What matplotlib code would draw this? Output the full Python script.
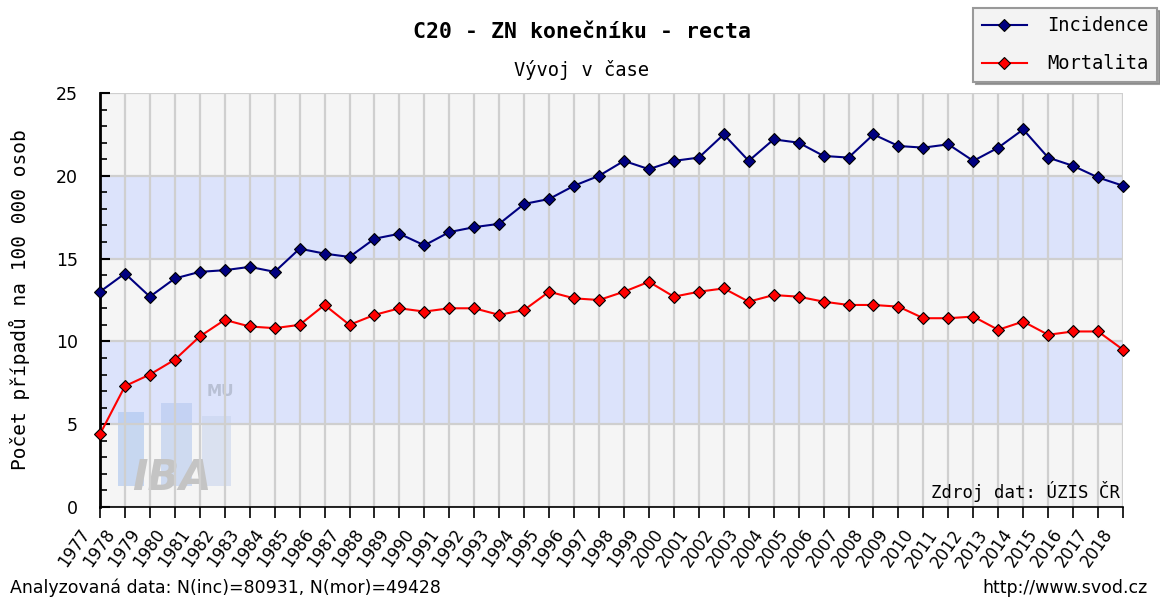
import numpy as np
import matplotlib
matplotlib.use("Agg")
import matplotlib.pyplot as plt
import matplotlib.transforms as mtransforms
from matplotlib.ticker import MultipleLocator
from matplotlib.patches import Rectangle

# --------------------------------------------------
# Data
# --------------------------------------------------
years = list(range(1977, 2019))
incidence = [13.0, 14.1, 12.7, 13.8, 14.2, 14.3, 14.5, 14.2, 15.6, 15.3,
             15.1, 16.2, 16.5, 15.8, 16.6, 16.9, 17.1, 18.3, 18.6, 19.4,
             20.0, 20.9, 20.4, 20.9, 21.1, 22.5, 20.9, 22.2, 22.0, 21.2,
             21.1, 22.5, 21.8, 21.7, 21.9, 20.9, 21.7, 22.8, 21.1, 20.6,
             19.9, 19.4]
mortality = [4.4, 7.3, 8.0, 8.9, 10.3, 11.3, 10.9, 10.8, 11.0, 12.2,
             11.0, 11.6, 12.0, 11.8, 12.0, 12.0, 11.6, 11.9, 13.0, 12.6,
             12.5, 13.0, 13.6, 12.7, 13.0, 13.2, 12.4, 12.8, 12.7, 12.4,
             12.2, 12.2, 12.1, 11.4, 11.4, 11.5, 10.7, 11.2, 10.4, 10.6,
             10.6, 9.5]
bands = [(5, 10), (15, 20)]

mono = "DejaVu Sans Mono"

# --------------------------------------------------
# Figure
# --------------------------------------------------
fig = plt.figure(figsize=(11.6, 5.99), dpi=100)
ax = fig.add_axes([100 / 1160, 1 - 507 / 599, 1023 / 1160, 414 / 599])
ax.set_facecolor("#f5f5f5")

for lo, hi in bands:
    ax.axhspan(lo, hi, color="#dce3fb", zorder=0, lw=0)

ax.set_xlim(years[0], years[-1])
ax.set_ylim(0, 25)

ax.set_xticks(years)
ax.set_xticklabels([])
# rotated year labels, ending a bit left of / below their tick
shift = mtransforms.ScaledTranslation(-14 / 100, -24 / 100, fig.dpi_scale_trans)
for y in years:
    ax.text(y, 0, str(y), transform=ax.get_xaxis_transform() + shift,
            rotation=55, ha="right", va="center", rotation_mode="anchor",
            fontsize=12)

ax.yaxis.set_major_locator(MultipleLocator(5))
ax.yaxis.set_minor_locator(MultipleLocator(1))
ax.tick_params(axis="y", which="major", direction="in", length=7, width=1.5,
               labelsize=12.5, pad=16)
ax.tick_params(axis="y", which="minor", direction="in", length=5, width=1.2)
ax.tick_params(axis="x", direction="out", length=8, width=1.2, pad=3)

ax.grid(True, which="major", color="#cfcfcf", lw=1.6, zorder=1)
for s in ["top", "right"]:
    ax.spines[s].set_visible(False)
ax.spines["left"].set_linewidth(2)
ax.spines["bottom"].set_linewidth(1.2)

# watermark
ax.add_patch(Rectangle((0.018, 0.05), 0.025, 0.18, transform=ax.transAxes,
                       color="#a9c4ee", alpha=0.6, zorder=1, lw=0))
ax.add_patch(Rectangle((0.06, 0.05), 0.03, 0.2, transform=ax.transAxes,
                       color="#b5c8ee", alpha=0.6, zorder=1, lw=0))
ax.add_patch(Rectangle((0.1, 0.05), 0.028, 0.17, transform=ax.transAxes,
                       color="#c8d4ee", alpha=0.6, zorder=1, lw=0))
ax.text(0.07, 0.02, "IBA", transform=ax.transAxes, fontsize=30,
        fontweight="bold", fontstyle="italic", color="#c4c4c4", ha="center",
        va="bottom", zorder=1)
ax.text(0.118, 0.26, "MU", transform=ax.transAxes, fontsize=11,
        fontweight="bold", color="#b8c0d4", ha="center", va="bottom", zorder=1)

ax.plot(years, incidence, color="#000080", lw=1.5, marker="D", ms=6.5,
        mfc="#000080", mec="black", mew=0.8, label="Incidence", zorder=3,
        clip_on=False)
ax.plot(years, mortality, color="red", lw=1.5, marker="D", ms=6.5,
        mfc="red", mec="black", mew=0.8, label="Mortalita", zorder=3,
        clip_on=False)

fig.text(20 / 1160, 1 - 300 / 599, "Počet případů na 100 000 osob",
         family=mono, fontsize=14, rotation=90, ha="center", va="center")

ax.text(0.997, 0.012, "Zdroj dat: ÚZIS ČR", transform=ax.transAxes,
        family=mono, fontsize=12.5, ha="right", va="bottom", zorder=4)

# titles
fig.text(582 / 1160, 1 - 32 / 599, "C20 - ZN konečníku - recta", family=mono,
         fontweight="bold", fontsize=15.5, ha="center", va="center")
fig.text(582 / 1160, 1 - 70 / 599, "Vývoj v čase", family=mono,
         fontsize=13.5, ha="center", va="center")

# legend
leg = fig.legend(loc="upper right", bbox_to_anchor=(1157 / 1160, 1 - 8 / 599),
                 prop={"family": mono, "size": 13.5}, fancybox=False,
                 shadow={"color": "#888888", "alpha": 0.8}, frameon=True,
                 borderpad=0.45, labelspacing=1.0,
                 handlelength=2.4, handletextpad=1.1, borderaxespad=0)
leg.get_frame().set_facecolor("#f3f3f3")
leg.get_frame().set_edgecolor("#999999")
leg.get_frame().set_linewidth(1.5)

# footer
fig.text(10 / 1160, 1 - 588 / 599, "Analyzovaná data: N(inc)=80931, N(mor)=49428",
         fontsize=12.5, ha="left", va="center")
fig.text(1148 / 1160, 1 - 588 / 599, "http://www.svod.cz", fontsize=12.5,
         ha="right", va="center")

plt.savefig("out.png", dpi=100)
